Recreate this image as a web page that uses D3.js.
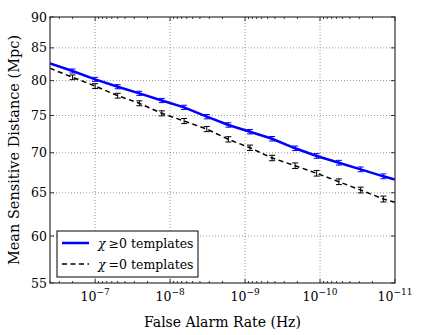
<!DOCTYPE html>
<html>
<head>
<meta charset="utf-8">
<script src="https://cdn.jsdelivr.net/npm/d3@7"></script>
<style>
body { margin: 0; background: #fff; }
text { font-family: "DejaVu Serif", serif; fill: #000; }
</style>
</head>
<body>
<svg id="drawarea"></svg>
<script>
// false alarm rate of each point (Hz); first and last ones sit on the frame edges
var far = [4e-7, 2.0e-7, 1.0e-7, 5.0e-8, 2.57e-8, 1.29e-8, 6.5e-9, 3.24e-9, 1.67e-9,
    8.6e-10, 4.36e-10, 2.15e-10, 1.11e-10, 5.6e-11, 2.87e-11, 1.43e-11, 1e-11];

// chi >= 0 templates
var distAll = [82.6, 81.44, 80.19, 79.10, 78.14, 77.11, 76.14, 74.83, 73.69,
    72.78, 71.84, 70.58, 69.58, 68.72, 67.88, 67.01, 66.61];
var errAll = [0, 0.3, 0.3, 0.3, 0.3, 0.3, 0.3, 0.3, 0.3, 0.3, 0.3, 0.3, 0.3, 0.3, 0.3, 0.3, 0];

// chi = 0 templates
var distZero = [81.85, 80.49, 79.20, 77.80, 76.71, 75.30, 74.23, 73.14, 71.76,
    70.65, 69.32, 68.34, 67.39, 66.34, 65.33, 64.25, 63.86];
var errZero = [0, 0.35, 0.35, 0.35, 0.35, 0.35, 0.35, 0.35, 0.35, 0.35, 0.35, 0.35, 0.35, 0.35, 0.35, 0.35, 0];

var seriesNames = ["\u2265", "="];
var yTicks = [55, 60, 65, 70, 75, 80, 85, 90];
var xMajor = [1e-7, 1e-8, 1e-9, 1e-10, 1e-11];

function init(){
    var width = 423, height = 335;
    var left = 50, right = 395, top = 17, bottom = 283;

    var svg = d3.select("#drawarea").attr("width", width).attr("height", height);

    var x = d3.scaleLog().domain([4e-7, 1e-11]).range([left, right]);
    var y = d3.scaleLog().domain([55, 90]).range([bottom, top]);

    // grid
    var grid = svg.append("g");
    xMajor.forEach(function(v){
        if(x(v) > left + 1 && x(v) < right - 1){
            grid.append("line")
                .attr("x1", x(v)).attr("x2", x(v))
                .attr("y1", top).attr("y2", bottom);
        }
    });
    yTicks.forEach(function(v){
        if(y(v) > top + 1 && y(v) < bottom - 1){
            grid.append("line")
                .attr("x1", left).attr("x2", right)
                .attr("y1", y(v)).attr("y2", y(v));
        }
    });
    grid.selectAll("line")
        .attr("stroke", "#555")
        .attr("stroke-width", 0.6)
        .attr("stroke-dasharray", "1,2");

    // ticks (inward, on all four sides)
    var ticks = svg.append("g").attr("stroke", "#000").attr("stroke-width", 0.8);
    x.ticks().forEach(function(v){
        var px = x(v);
        if(px < left - 0.5 || px > right + 0.5) return;
        var isMajor = Math.abs(Math.log10(v) - Math.round(Math.log10(v))) < 1e-6;
        var len = isMajor ? 4 : 2;
        ticks.append("line").attr("x1", px).attr("x2", px).attr("y1", bottom).attr("y2", bottom - len);
        ticks.append("line").attr("x1", px).attr("x2", px).attr("y1", top).attr("y2", top + len);
    });
    yTicks.forEach(function(v){
        ticks.append("line").attr("x1", left).attr("x2", left + 4).attr("y1", y(v)).attr("y2", y(v));
        ticks.append("line").attr("x1", right).attr("x2", right - 4).attr("y1", y(v)).attr("y2", y(v));
    });

    // clip for the lines
    svg.append("clipPath").attr("id", "plotclip")
        .append("rect").attr("x", left).attr("y", top)
        .attr("width", right - left).attr("height", bottom - top);

    var plot = svg.append("g").attr("clip-path", "url(#plotclip)");

    function drawSeries(dist, err, color, dash, lw){
        var line = d3.line()
            .x(function(d, i){ return x(far[i]); })
            .y(function(d){ return y(d); });
        plot.append("path")
            .datum(dist)
            .attr("d", line)
            .attr("fill", "none")
            .attr("stroke", color)
            .attr("stroke-width", lw)
            .attr("stroke-dasharray", dash);
        var eb = plot.append("g").attr("stroke", color).attr("stroke-width", 1);
        dist.forEach(function(d, i){
            if(!err[i]) return;
            var px = x(far[i]);
            var y1 = y(d - err[i]), y2 = y(d + err[i]);
            eb.append("line").attr("x1", px).attr("x2", px).attr("y1", y1).attr("y2", y2);
            eb.append("line").attr("x1", px - 3).attr("x2", px + 3).attr("y1", y1).attr("y2", y1);
            eb.append("line").attr("x1", px - 3).attr("x2", px + 3).attr("y1", y2).attr("y2", y2);
        });
    }
    drawSeries(distZero, errZero, "#000", "5,3.5", 1.5);
    drawSeries(distAll, errAll, "#0000ff", null, 2.5);

    // frame
    svg.append("rect")
        .attr("x", left).attr("y", top)
        .attr("width", right - left).attr("height", bottom - top)
        .attr("fill", "none")
        .attr("stroke", "#333")
        .attr("stroke-width", 1.2);

    // y tick labels
    svg.append("g").selectAll("text")
        .data(yTicks)
        .enter().append("text")
        .attr("x", left - 3)
        .attr("y", function(d){ return y(d); })
        .attr("dy", "0.36em")
        .attr("text-anchor", "end")
        .attr("font-size", 12.5)
        .text(function(d){ return d; });

    // x tick labels 10^-n
    xMajor.forEach(function(v){
        var t = svg.append("text")
            .attr("x", x(v))
            .attr("y", bottom + 18)
            .attr("text-anchor", "middle")
            .attr("font-size", 12.5);
        t.append("tspan").text("10");
        t.append("tspan")
            .attr("dy", -6)
            .attr("font-size", 9)
            .text("\u2212" + Math.round(-Math.log10(v)));
    });

    // axis labels
    svg.append("text")
        .attr("x", (left + right) / 2)
        .attr("y", 327)
        .attr("text-anchor", "middle")
        .attr("font-size", 14)
        .text("False Alarm Rate (Hz)");
    svg.append("text")
        .attr("transform", "translate(19," + ((top + bottom) / 2) + ") rotate(-90)")
        .attr("text-anchor", "middle")
        .attr("font-size", 14.5)
        .text("Mean Sensitive Distance (Mpc)");

    // legend
    var lg = svg.append("g");
    lg.append("rect")
        .attr("x", 57).attr("y", 231)
        .attr("width", 141).attr("height", 46)
        .attr("fill", "#fff")
        .attr("stroke", "#000")
        .attr("stroke-width", 1);
    var legendStyle = [["#0000ff", null, 2.5], ["#000", "5,3.5", 1.5]];
    seriesNames.forEach(function(s, i){
        var ly = 243 + i * 21;
        lg.append("line")
            .attr("x1", 62).attr("x2", 89)
            .attr("y1", ly).attr("y2", ly)
            .attr("stroke", legendStyle[i][0])
            .attr("stroke-width", legendStyle[i][2])
            .attr("stroke-dasharray", legendStyle[i][1]);
        var t = lg.append("text")
            .attr("x", 98).attr("y", ly + 4.5)
            .attr("font-size", 12.5);
        t.append("tspan").attr("font-style", "italic").text("\u03c7");
        t.append("tspan").attr("dx", 3).text(s + "0 templates");
    });
}

init();
</script>
</body>
</html>
